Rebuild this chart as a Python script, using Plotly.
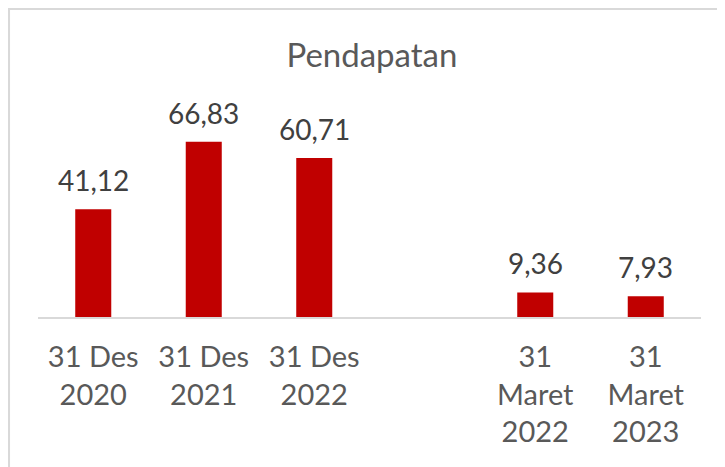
import plotly.graph_objects as go

categories = ["31 Des<br>2020", "31 Des<br>2021", "31 Des<br>2022", " ",
              "31<br>Maret<br>2022", "31<br>Maret<br>2023"]
pendapatan = [41.12, 66.83, 60.71, None, 9.36, 7.93]

FONT = "Lato"
BAR_COLOR = "#C00000"

fig = go.Figure(go.Bar(
    x=categories,
    y=pendapatan,
    marker_color=BAR_COLOR,
    marker_line_width=0,
    hoverinfo="skip",
))

# label angka di atas batang (format koma desimal)
for cat, val in zip(categories, pendapatan):
    if val is None:
        continue
    fig.add_annotation(
        x=cat, y=val, xref="x", yref="y",
        text=f"{val:.2f}".replace(".", ","),
        showarrow=False, yanchor="bottom", yshift=10,
        font=dict(family=FONT, size=28, color="#404040"),
    )

# bingkai abu-abu di sekeliling grafik
fig.add_shape(
    type="rect", xref="paper", yref="paper",
    x0=-0.0437, x1=1.2, y0=-1.0, y1=1.419,
    line=dict(color="#D9D9D9", width=2), fillcolor="rgba(0,0,0,0)",
    layer="below",
)

fig.update_layout(
    width=725, height=467,
    margin=dict(l=30, r=32, t=92, b=158),
    paper_bgcolor="white", plot_bgcolor="white",
    bargap=0.674,
    showlegend=False,
    title=dict(
        text="Pendapatan", x=0.502, xanchor="center",
        y=0.899, yanchor="middle",
        font=dict(family=FONT, size=33, color="#595959"),
    ),
    xaxis=dict(
        showline=True, linecolor="#D9D9D9", linewidth=2,
        ticks="", showgrid=False, zeroline=False,
        tickfont=dict(family=FONT, size=29, color="#595959"),
        ticklabelstandoff=13,
    ),
    yaxis=dict(
        range=[0, 82.8], visible=False, showgrid=False, zeroline=False,
    ),
)

fig.write_html("out.html")
